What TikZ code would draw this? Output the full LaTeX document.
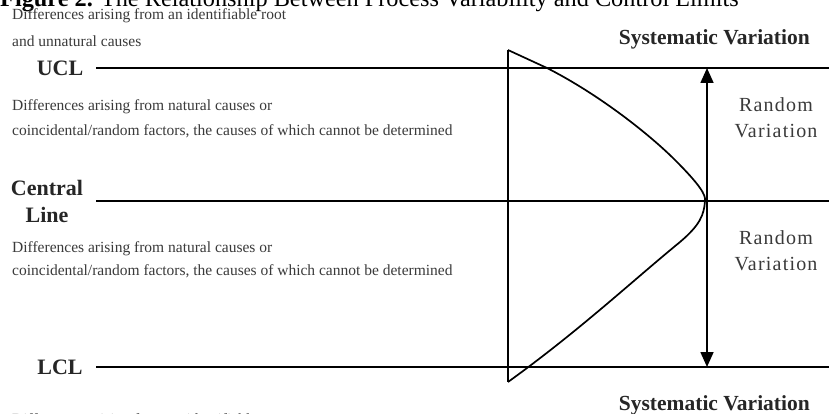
\documentclass[tikz,border=0pt]{standalone}
\usepackage{fontspec}
\setmainfont{Liberation Serif}
\usetikzlibrary{arrows.meta}
\definecolor{txtgray}{HTML}{3A3A3A}
\definecolor{lblgray}{HTML}{262626}
\tikzset{
  x=1pt, y=-1pt,
  rule/.style={line width=1.7pt, black},
  desc/.style={anchor=base west, inner sep=0pt, text=txtgray, font=\fontsize{15.5}{18}\selectfont},
  limlbl/.style={inner sep=0pt, text=lblgray, font=\fontsize{22}{25}\selectfont\bfseries},
  syslbl/.style={anchor=base east, inner sep=0pt, text=lblgray, font=\fontsize{21.5}{25}\selectfont\bfseries},
  randlbl/.style={anchor=base, inner sep=0pt, text=txtgray, font=\fontsize{20}{23}\selectfont\addfontfeature{LetterSpace=6}},
}
\begin{document}
\begin{tikzpicture}
\useasboundingbox (0,0) rectangle (829,414);
\clip (0,0) rectangle (829,414);
\fill[white] (0,0) rectangle (829,414);
% title
\node[anchor=base west, inner sep=0pt, font=\fontsize{24.3}{28}\selectfont] (title) at (0,7) {\textbf{Figure 2.} The Relationship Between Process Variability and Control Limits};
% coordinates for lines
\coordinate (ucl0) at (96,68);  \coordinate (ucl1) at (829,68);
\coordinate (cl0) at (96,201);  \coordinate (cl1) at (829,201);
\coordinate (lcl0) at (96,367); \coordinate (lcl1) at (829,367);
\coordinate (vtop) at (508,50); \coordinate (vbot) at (508,382);
\coordinate (atop) at (707,68); \coordinate (abot) at (707,367);
\draw[rule] (ucl0) -- (ucl1);
\draw[rule] (cl0) -- (cl1);
\draw[rule] (lcl0) -- (lcl1);
\draw[rule] (vtop) -- (vbot);
\draw[rule, line join=round] (vtop) -- (547,68) .. controls (600,95) and (650,135) .. (675,160)
  .. controls (700,185) and (706,195) .. (705,201)
  .. controls (704,215) and (700,225) .. (680,242)
  .. controls (630,283) and (580,330) .. (vbot);
\draw[black, line width=1.7pt, {Triangle[width=13pt,length=15pt]}-{Triangle[width=13pt,length=15pt]}] (atop) -- (abot);
% labels
\node[limlbl] (ucl) at (60,68) {UCL};
\node[limlbl] (lcl) at (60,367) {LCL};
\node[limlbl, anchor=base] (cen1) at (47,196) {Central};
\node[limlbl, anchor=base] (cen2) at (47,222) {Line};
\node[syslbl] (sys1) at (810,45) {Systematic Variation};
\node[syslbl] (sys2) at (810,410) {Systematic Variation};
\node[randlbl] (r1a) at (776,112) {Random};
\node[randlbl] (r1b) at (776,138) {Variation};
\node[randlbl] (r2a) at (776,244) {Random};
\node[randlbl] (r2b) at (776,270) {Variation};
\node[desc] (d1) at (12,20) {Differences arising from an identifiable root};
\node[desc] (d2) at (12,47) {and unnatural causes};
\node[desc] (d3) at (12,111) {Differences arising from natural causes or};
\node[desc] (d4) at (12,136) {coincidental/random factors, the causes of which cannot be determined};
\node[desc] (d5) at (12,252) {Differences arising from natural causes or};
\node[desc] (d6) at (12,275) {coincidental/random factors, the causes of which cannot be determined};
\node[desc] (d7) at (12,424) {Differences arising from an identifiable root};
\end{tikzpicture}
\end{document}
